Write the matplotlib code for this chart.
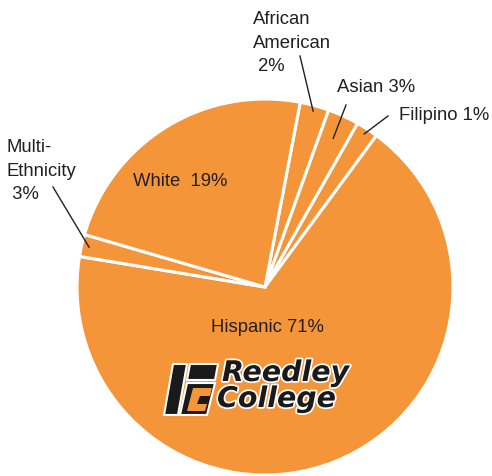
import numpy as np
import matplotlib.pyplot as plt
from matplotlib.patches import Polygon
import matplotlib.patheffects as pe

# slice sizes as drawn (degrees of arc, in %)
groups = ["African American", "Asian", "Filipino", "Hispanic", "Multi-Ethnicity", "White"]
shares = [2.5, 2.7, 1.9, 67.5, 1.9, 23.5]
labels = ["African\nAmerican\n 2%", "Asian 3%", "Filipino 1%", "Hispanic 71%",
          "Multi-\nEthnicity\n 3%", "White  19%"]

orange = "#F5953A"
ink = "#231F20"

W, H = 492, 477
fig = plt.figure(figsize=(W / 100, H / 100), dpi=100)
ax = fig.add_axes([0, 0, 1, 1])

cx, cy, r = 265, H - 288, 188
start = 79.2
wedges, _ = ax.pie(shares, colors=[orange] * len(shares), startangle=start,
                   counterclock=False, center=(cx, cy), radius=r,
                   wedgeprops=dict(edgecolor="white", linewidth=2.2))
ax.set_xlim(0, W)
ax.set_ylim(0, H)
ax.set_aspect("auto")
ax.axis("off")

font = "Liberation Sans"
fs = 13.3


def mid_point(i, frac):
    w = wedges[i]
    a = np.deg2rad((w.theta1 + w.theta2) / 2)
    return cx + r * frac * np.cos(a), cy + r * frac * np.sin(a)


# outside labels with leader lines (label pos, leader start, fraction of radius)
outside = {
    0: ((253, H - 11), (300, H - 57), 0.97),
    1: ((337, H - 88), (346, H - 106), 0.87),
    2: ((399, H - 115), (388, H - 117), 0.97),
    4: ((7, H - 139), (53, H - 188), 0.96),
}
for i, (tpos, lstart, frac) in outside.items():
    va = "top" if "\n" in labels[i] else "center"
    ax.text(tpos[0], tpos[1], labels[i], ha="left", va=va, fontsize=fs,
            family=font, color=ink, linespacing=1.5)
    x1, y1 = mid_point(i, frac)
    ax.plot([lstart[0], x1], [lstart[1], y1], color=ink, lw=1.0)

ax.text(133, H - 181, labels[5], ha="left", va="center", fontsize=fs,
        family=font, color=ink)
ax.text(267, H - 327, labels[3], ha="center", va="center", fontsize=fs,
        family=font, color=ink)

# Reedley College logo
outline = dict(edgecolor="white", linewidth=1.5, joinstyle="miter")
stem = [(173, H - 365), (187, H - 365), (178, H - 416), (164, H - 416)]
arm = [(190, H - 365), (218, H - 365), (215, H - 381), (187, H - 381)]
cblk = [(187, H - 384), (215, H - 384), (207, H - 416), (180, H - 416)]
cin = [(193, H - 389), (212, H - 389), (210, H - 397), (200, H - 397),
       (197, H - 405), (207, H - 405), (205, H - 412), (187, H - 412)]
for pts in [stem, arm, cblk]:
    ax.add_patch(Polygon(pts, closed=True, facecolor="#1A1A1A", **outline))
ax.add_patch(Polygon(cin, closed=True, facecolor=orange, edgecolor="none"))

stroke = [pe.withStroke(linewidth=2.5, foreground="white")]
for txt, x, y in [("Reedley", 222, 374), ("College", 217, 400)]:
    ax.text(x, H - y, txt, ha="left", va="center", fontsize=20.5,
            family="DejaVu Sans", weight="bold", style="italic",
            color="#1A1A1A", path_effects=stroke)

fig.savefig("out.png", dpi=100)
